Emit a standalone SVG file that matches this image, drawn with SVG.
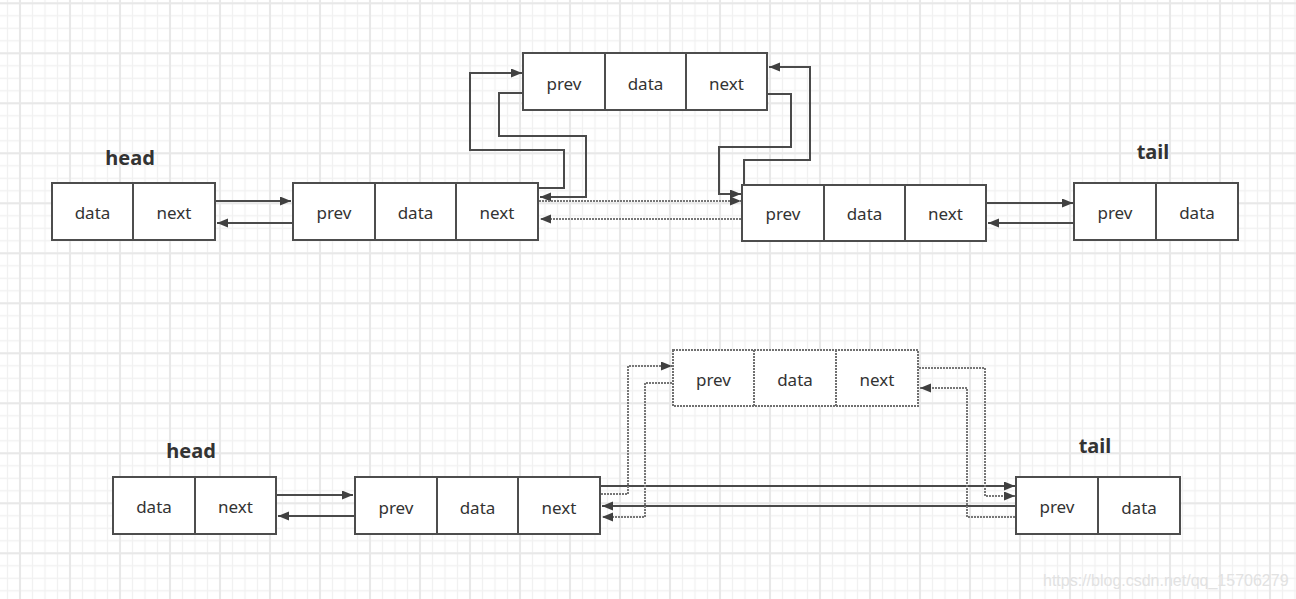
<svg xmlns="http://www.w3.org/2000/svg" width="1296" height="599" viewBox="0 0 1296 599">
<style>
.box{fill:#ffffff;stroke:#4d4d4d;stroke-width:2}
.dbox{fill:#ffffff;stroke:#707070;stroke-width:2;stroke-dasharray:2 1}
.div{stroke:#4d4d4d;stroke-width:2}
.ddiv{stroke:#707070;stroke-width:2;stroke-dasharray:2 1}
.t{font-family:"Noto Sans","Open Sans",sans-serif;font-size:17px;fill:#333333;text-anchor:middle;dominant-baseline:central}
.lbl{font-family:"Noto Sans","Open Sans",sans-serif;font-size:20px;font-weight:bold;fill:#333333;text-anchor:middle}
.ln{fill:none;stroke:#4a4a4a;stroke-width:2}
.dl{fill:none;stroke:#777777;stroke-width:2;stroke-dasharray:2 1}
.wm{font-family:"Liberation Sans",Arial,sans-serif;font-size:16px;fill:#e2e2e2}
</style>
<defs>
<pattern id="gmin" x="13.75" y="-2.95" width="12.5" height="12.5" patternUnits="userSpaceOnUse">
<path d="M6.25 0V12.5M0 6.25H12.5" stroke="#f1f1f1" stroke-width="1.3" fill="none"/>
</pattern>
<pattern id="gmaj" x="-5" y="28.3" width="50" height="50" patternUnits="userSpaceOnUse">
<path d="M25 0V50M0 25H50" stroke="#e8e8e8" stroke-width="2" fill="none"/>
</pattern>
<marker id="ah" markerUnits="userSpaceOnUse" markerWidth="12" markerHeight="10" refX="11" refY="4.5" orient="auto">
<path d="M0 0L11 4.5L0 9z" fill="#404040"/>
</marker>
</defs>
<rect width="1296" height="599" fill="#ffffff"/>
<rect width="1296" height="599" fill="url(#gmin)"/>
<rect width="1296" height="599" fill="url(#gmaj)"/>

<g id="connectors">
<!-- top row -->
<path class="ln" d="M216 201H291" marker-end="url(#ah)"/>
<path class="ln" d="M292 223H217" marker-end="url(#ah)"/>
<path class="ln" d="M987 203H1073" marker-end="url(#ah)"/>
<path class="ln" d="M1073 223H988" marker-end="url(#ah)"/>
<path class="ln" d="M539 188H564V150H470V73H522" marker-end="url(#ah)"/>
<path class="ln" d="M522 93H499V136H586V197H540" marker-end="url(#ah)"/>
<path class="ln" d="M768 94H791V147H719V194H741" marker-end="url(#ah)"/>
<path class="ln" d="M744 184V160H810V67H769" marker-end="url(#ah)"/>
<path class="dl" d="M539 201H741" marker-end="url(#ah)"/>
<path class="dl" d="M741 219H540" marker-end="url(#ah)"/>
<!-- bottom row -->
<path class="ln" d="M277 495H353" marker-end="url(#ah)"/>
<path class="ln" d="M354 516H278" marker-end="url(#ah)"/>
<path class="ln" d="M601 486H1015" marker-end="url(#ah)"/>
<path class="ln" d="M1015 506H602" marker-end="url(#ah)"/>
<path class="dl" d="M601 494H628V366H672" marker-end="url(#ah)"/>
<path class="dl" d="M672 383H645V517H602" marker-end="url(#ah)"/>
<path class="dl" d="M919 368H985V496H1015" marker-end="url(#ah)"/>
<path class="dl" d="M1015 517H967V388H920" marker-end="url(#ah)"/>
</g>

<g id="label-head-top"><text class="lbl" x="130" y="165">head</text></g>
<g id="label-tail-top"><text class="lbl" x="1153" y="159">tail</text></g>
<g id="label-head-bottom"><text class="lbl" x="191" y="458">head</text></g>
<g id="label-tail-bottom"><text class="lbl" x="1095" y="453">tail</text></g>

<g id="top-head">
<rect class="box" x="52" y="183" width="163" height="57"/>
<line class="div" x1="133" y1="183" x2="133" y2="240"/>
<text class="t" x="92.5" y="212">data</text>
<text class="t" x="174" y="212">next</text>
</g>

<g id="top-node2">
<rect class="box" x="293" y="183" width="245" height="57"/>
<line class="div" x1="375" y1="183" x2="375" y2="240"/>
<line class="div" x1="456" y1="183" x2="456" y2="240"/>
<text class="t" x="334" y="212">prev</text>
<text class="t" x="415.5" y="212">data</text>
<text class="t" x="497" y="212">next</text>
</g>

<g id="top-new">
<rect class="box" x="523" y="53" width="244" height="57"/>
<line class="div" x1="605" y1="53" x2="605" y2="110"/>
<line class="div" x1="686" y1="53" x2="686" y2="110"/>
<text class="t" x="564" y="83">prev</text>
<text class="t" x="645.5" y="83">data</text>
<text class="t" x="726.5" y="83">next</text>
</g>

<g id="top-node3">
<rect class="box" x="742" y="185" width="244" height="56"/>
<line class="div" x1="824" y1="185" x2="824" y2="241"/>
<line class="div" x1="905" y1="185" x2="905" y2="241"/>
<text class="t" x="783" y="213.5">prev</text>
<text class="t" x="864.5" y="213.5">data</text>
<text class="t" x="945.5" y="213.5">next</text>
</g>

<g id="top-tail">
<rect class="box" x="1074" y="183" width="164" height="57"/>
<line class="div" x1="1156" y1="183" x2="1156" y2="240"/>
<text class="t" x="1115" y="212">prev</text>
<text class="t" x="1197" y="212">data</text>
</g>

<g id="bottom-head">
<rect class="box" x="113" y="477" width="163" height="57"/>
<line class="div" x1="195" y1="477" x2="195" y2="534"/>
<text class="t" x="154" y="506">data</text>
<text class="t" x="235.5" y="506">next</text>
</g>

<g id="bottom-node2">
<rect class="box" x="355" y="477" width="245" height="57"/>
<line class="div" x1="437" y1="477" x2="437" y2="534"/>
<line class="div" x1="518" y1="477" x2="518" y2="534"/>
<text class="t" x="396" y="507">prev</text>
<text class="t" x="477.5" y="507">data</text>
<text class="t" x="559" y="507">next</text>
</g>

<g id="bottom-new">
<rect class="dbox" x="673" y="350" width="245" height="56"/>
<line class="ddiv" x1="754" y1="350" x2="754" y2="406"/>
<line class="ddiv" x1="836" y1="350" x2="836" y2="406"/>
<text class="t" x="713.5" y="379">prev</text>
<text class="t" x="795" y="379">data</text>
<text class="t" x="877" y="379">next</text>
</g>

<g id="bottom-tail">
<rect class="box" x="1016" y="477" width="164" height="57"/>
<line class="div" x1="1098" y1="477" x2="1098" y2="534"/>
<text class="t" x="1057" y="506">prev</text>
<text class="t" x="1139" y="507">data</text>
</g>

<text class="wm" x="1043" y="586">https://blog.csdn.net/qq_15706279</text>
</svg>
